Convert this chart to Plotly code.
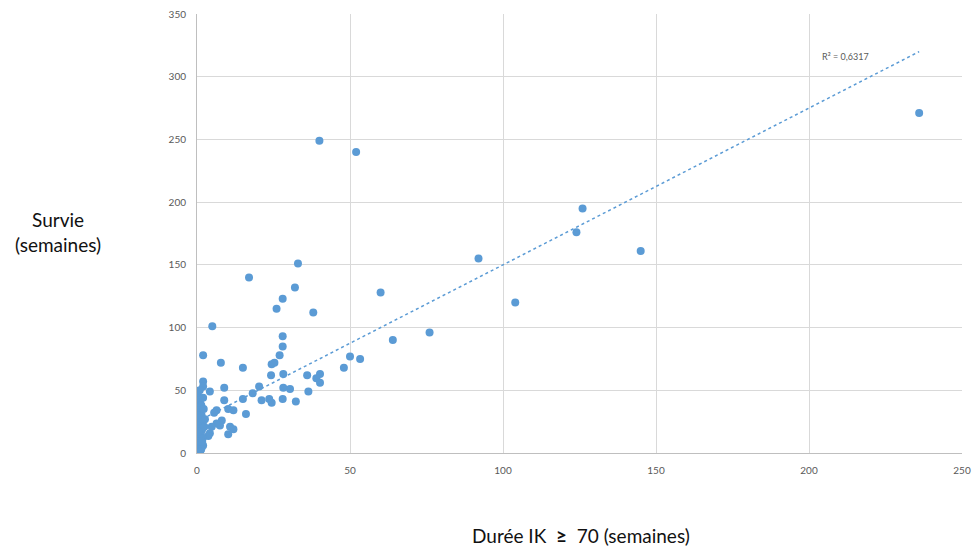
import plotly.graph_objects as go

# Scattered points (Durée IK >= 70, Survie) in weeks
duree = [
    236, 145, 126, 124, 104, 92, 76, 64, 60, 52, 40,
    33, 17, 32, 28, 26, 38, 5, 28, 28,
    2, 27, 24.4, 25.3, 7.8, 15, 50, 53.3, 48, 24.2, 28.2, 36, 40.2, 39, 40.2,
    2, 2, 4.2, 8.9, 18.2, 20.3, 28.2, 30.4, 36.4, 28, 23.6, 24.4, 21.1, 32.3,
    15, 8.9, 10.2, 11.9, 16, 6.4, 5.6, 8.1, 6.4, 7.5, 4.8, 10.8, 11.9, 10.2,
    4.2, 3.7,
    0, 0.3, 0.6, 1, 1.4, 2, 0, 0.5, 1, 1.5, 2.2, 0.2, 0.8, 1.2, 1.8,
    0, 0.4, 1, 1.6, 2.4, 0.1, 0.7, 1.3, 0, 0.5, 1.1, 1.9, 0.3, 0.9, 1.5,
    0, 0.6, 1.2, 2, 0.2, 0.8, 1.4, 0, 1, 2.6, 0.4, 1.7, 0, 0.9,
]
survie = [
    271, 161, 195, 176, 120, 155, 96, 90, 128, 240, 249,
    151, 140, 132, 123, 115, 112, 101, 93, 85,
    78, 78, 70.7, 72, 72, 68, 77, 75, 68, 62, 63, 62, 63, 59.5, 56,
    57, 53, 49, 52, 47.6, 53, 52, 51, 49, 43, 43, 40, 42, 41,
    43, 42, 35, 34, 31, 34, 32, 26, 23.6, 22, 21, 21, 19, 15,
    15.7, 13.6,
    48, 45, 42, 40, 38, 44, 36, 34, 32, 30, 35, 29, 27, 25, 24,
    22, 20, 19, 18, 21, 16, 15, 14, 12, 11, 10, 12, 9, 8, 7,
    6, 5, 4, 6, 3, 2, 3, 1, 1, 27, 17, 9, 30, 50,
]

# Linear trendline
trend_x = [0, 236]
trend_intercept = 25
trend_slope = 1.25
r2_label = "R² = 0,6317"

x_ticks = [0, 50, 100, 150, 200, 250]
y_ticks = [0, 50, 100, 150, 200, 250, 300, 350]

blue = "#5B9BD5"
title_font = dict(family="Lato, Open Sans, sans-serif", size=19, color="#111111")
axis_font = dict(family="Lato, Liberation Sans, sans-serif", size=10, color="#595959")

fig = go.Figure()
fig.add_trace(go.Scatter(
    x=trend_x,
    y=[trend_intercept + trend_slope * v for v in trend_x],
    mode="lines",
    line=dict(color=blue, width=1.5, dash="dot"),
    hoverinfo="skip",
    showlegend=False,
))
fig.add_trace(go.Scatter(
    x=duree, y=survie,
    mode="markers",
    marker=dict(color=blue, size=8, line=dict(width=0)),
    showlegend=False,
))

fig.add_annotation(
    x=212, y=316, xref="x", yref="y", text=r2_label, showarrow=False,
    font=dict(family="Lato, Liberation Sans, sans-serif", size=9, color="#595959"),
)
# Y title (horizontal, left of plot)
fig.add_annotation(
    xref="paper", yref="paper", x=-0.182, y=0.503, xanchor="center", yanchor="middle",
    text="Survie<br>(semaines)", showarrow=False, font=title_font,
)
# X title
fig.add_annotation(
    xref="paper", yref="paper", x=0.502, y=-0.187, xanchor="center", yanchor="middle",
    text="Durée IK  <b>≥</b>  70 (semaines)",
    showarrow=False, font=title_font,
)

fig.update_layout(
    width=975, height=546,
    margin=dict(l=197, r=13, t=14, b=93, autoexpand=False),
    paper_bgcolor="white", plot_bgcolor="white",
    font=title_font,
    xaxis=dict(
        range=[0, 250], tickvals=x_ticks, showgrid=True, gridcolor="#D9D9D9",
        gridwidth=1, zeroline=False, showline=True, linecolor="#BFBFBF",
        tickfont=axis_font, ticks="", ticklabelstandoff=8, automargin=False,
    ),
    yaxis=dict(
        range=[0, 350], tickvals=y_ticks, showgrid=True, gridcolor="#D9D9D9",
        gridwidth=1, zeroline=False, showline=True, linecolor="#BFBFBF",
        tickfont=axis_font, ticks="", ticklabelstandoff=8, automargin=False,
    ),
)

fig.write_html(
    "out.html",
    config={"displayModeBar": False},
    post_script="document.body.style.margin='0';document.body.style.overflow='hidden';",
)
